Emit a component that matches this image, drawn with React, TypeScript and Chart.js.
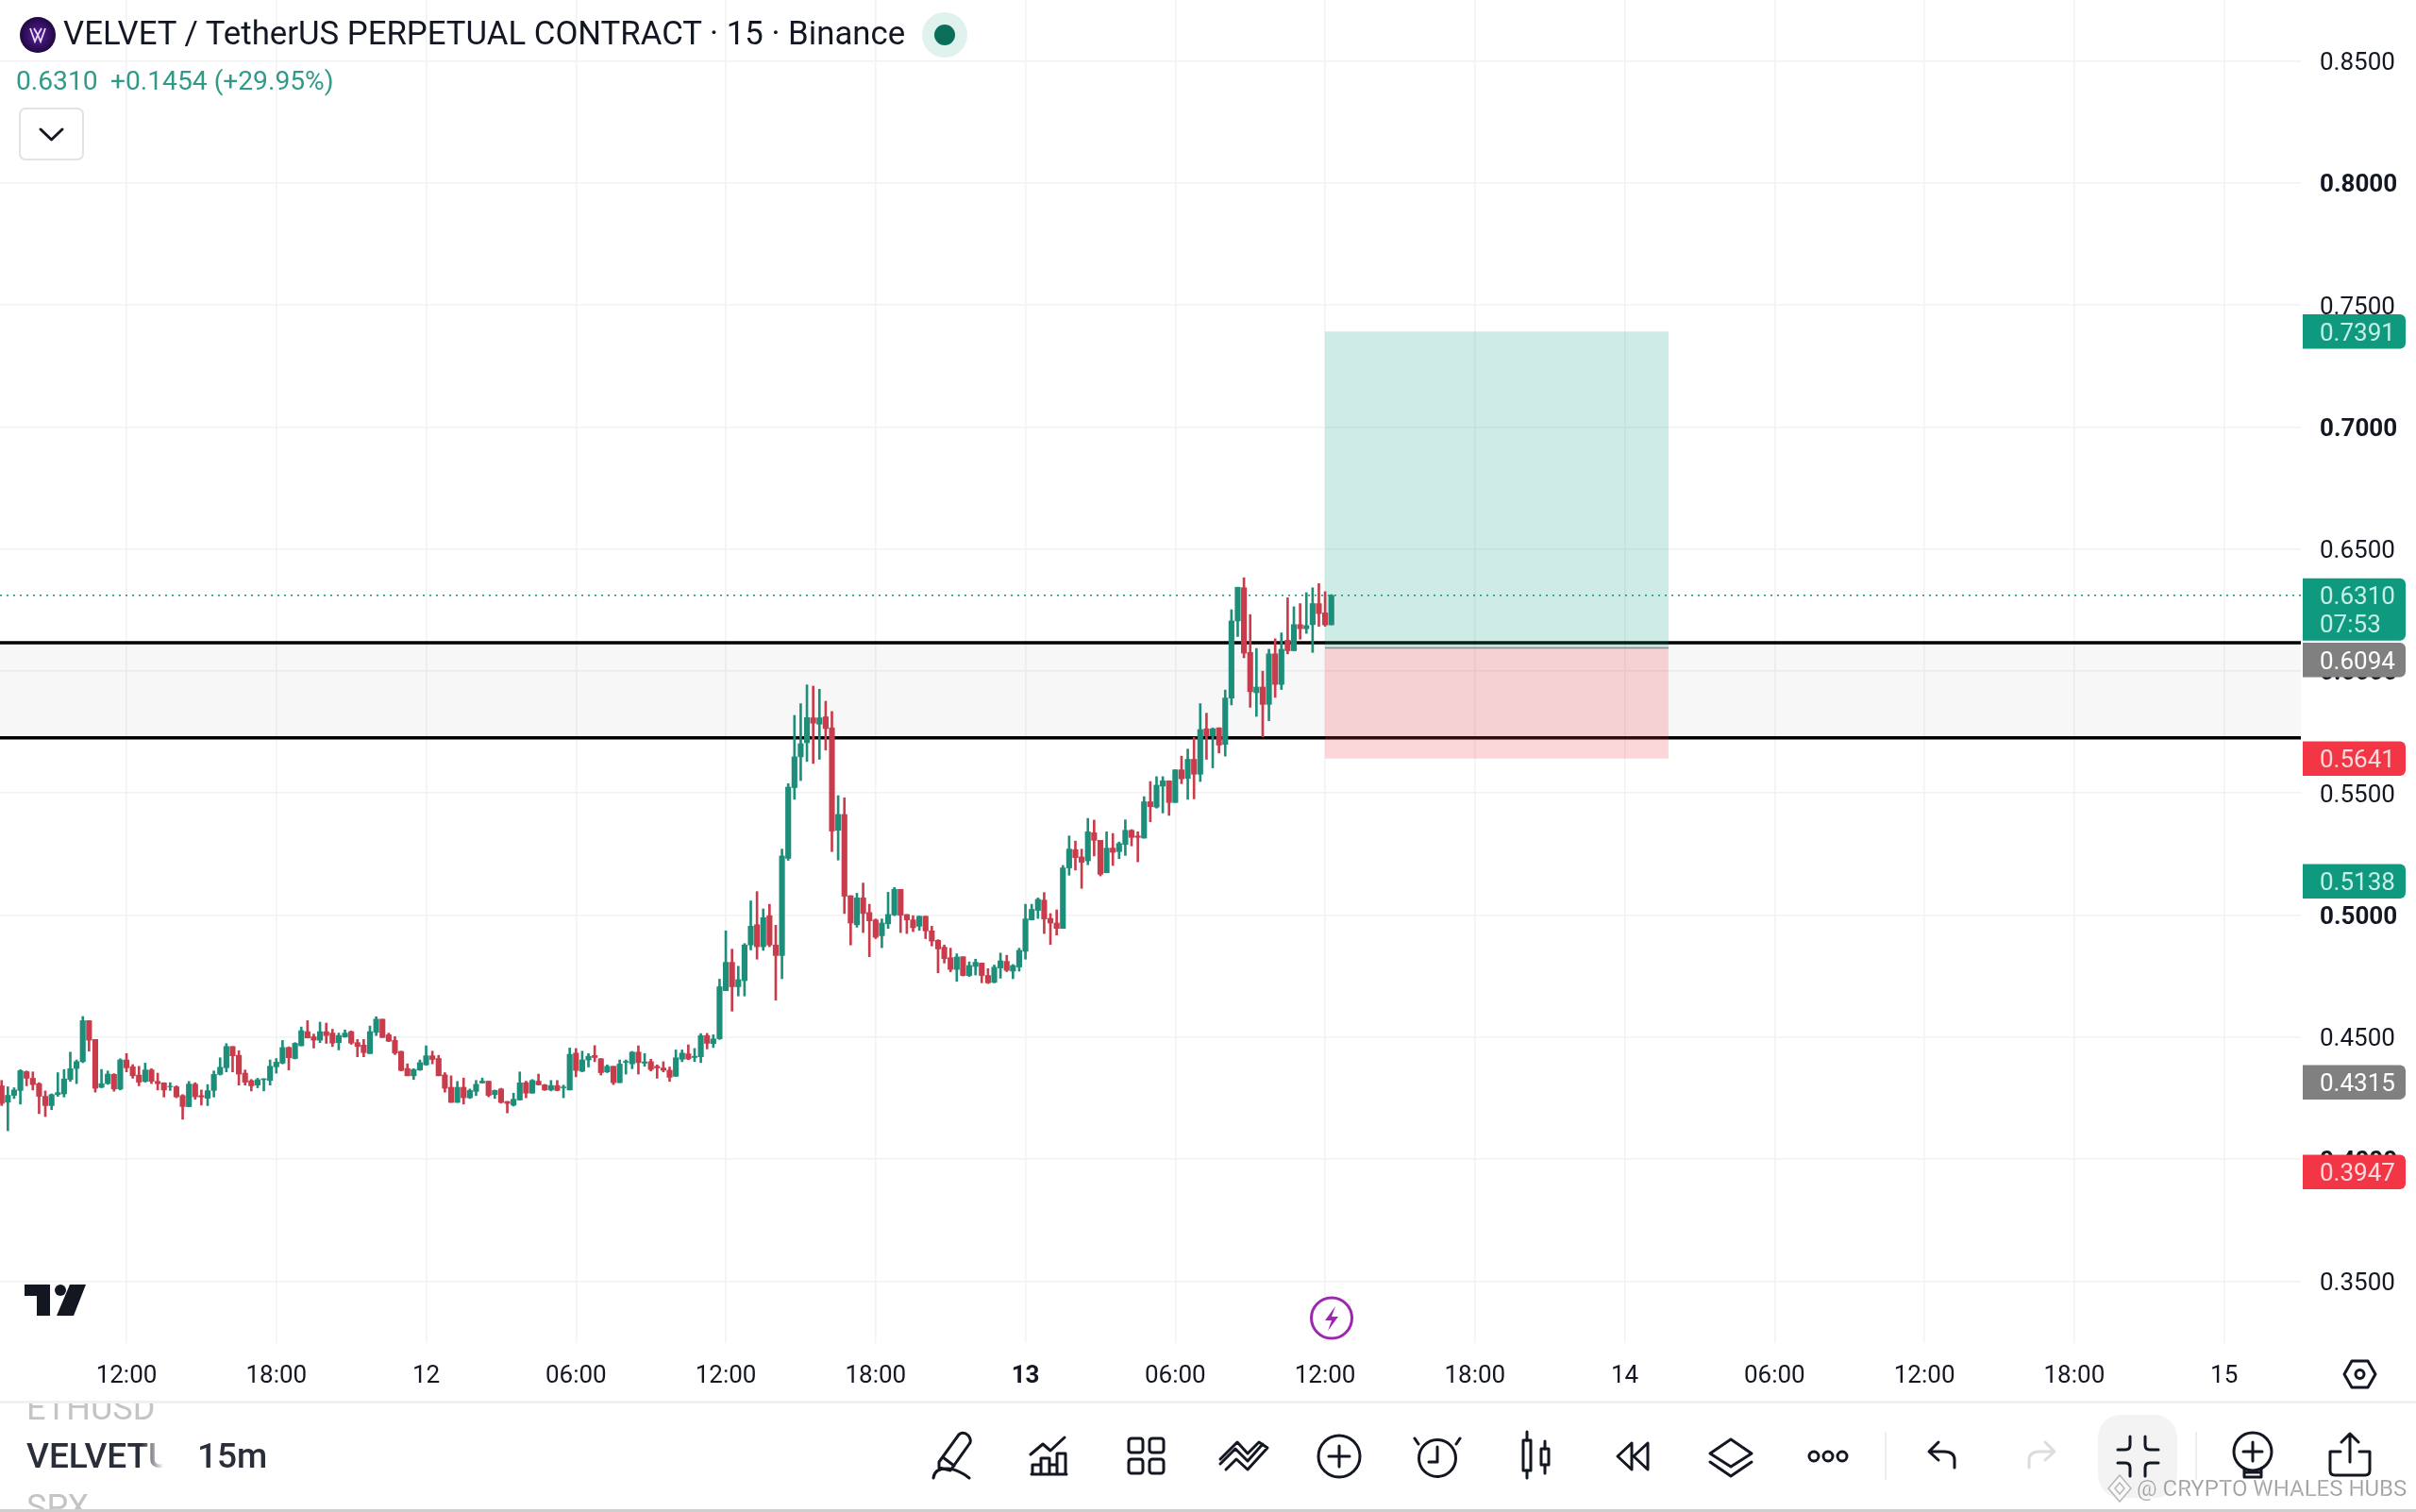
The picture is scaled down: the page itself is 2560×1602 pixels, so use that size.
import React, { useEffect, useRef } from "react";
import { Chart, registerables } from "chart.js";

Chart.register(...registerables);

const firstBar = 28;
const opens = [
  .4300,.4233,.4261,.4281,.4358,.4331,.4309,.4257,.4219,.4264,
  .4267,.4326,.4371,.4399,.4567,.4490,.4294,.4309,.4347,.4287,
  .4406,.4378,.4344,.4318,.4365,.4318,.4312,.4296,.4296,.4260,
  .4215,.4307,.4260,.4249,.4281,.4347,.4374,.4461,.4425,.4352,
  .4321,.4303,.4325,.4322,.4378,.4393,.4457,.4412,.4464,.4522,
  .4501,.4487,.4522,.4516,.4477,.4500,.4522,.4477,.4467,.4432,
  .4519,.4573,.4509,.4486,.4441,.4371,.4341,.4365,.4386,.4423,
  .4412,.4345,.4294,.4232,.4294,.4251,.4277,.4312,.4319,.4264,
  .4287,.4236,.4221,.4242,.4313,.4270,.4319,.4304,.4283,.4301,
  .4292,.4283,.4434,.4360,.4406,.4424,.4411,.4357,.4380,.4313,
  .4396,.4390,.4438,.4393,.4399,.4380,.4373,.4364,.4339,.4409,
  .4431,.4416,.4419,.4506,.4473,.4493,.4690,.4806,.4706,.4731,
  .4877,.4960,.4870,.4997,.4877,.4834,.5232,.5522,.5648,.5706,
  .5808,.5782,.5812,.5767,.5347,.5412,.5079,.4960,.5070,.5010,
  .4980,.4915,.4964,.5000,.5105,.5002,.4980,.4954,.4995,.4935,
  .4896,.4868,.4825,.4777,.4829,.4752,.4789,.4803,.4752,.4724,
  .4783,.4810,.4770,.4787,.4851,.4980,.5019,.5061,.4986,.4967,
  .4945,.5193,.5268,.5238,.5222,.5337,.5306,.5173,.5274,.5260,
  .5289,.5347,.5324,.5315,.5464,.5442,.5528,.5550,.5461,.5595,
  .5560,.5638,.5577,.5763,.5734,.5767,.5699,.5889,.6205,.6341,
  .6076,.5911,.5934,.5863,.6070,.5945,.6126,.6083,.6190,.6173,
  .6190,.6276,.6238,.6189,
];
const closes = [
  .4228,.4261,.4283,.4362,.4331,.4305,.4257,.4219,.4264,.4272,
  .4328,.4370,.4399,.4567,.4487,.4290,.4309,.4348,.4287,.4406,
  .4374,.4341,.4315,.4365,.4318,.4309,.4283,.4298,.4255,.4215,
  .4307,.4255,.4254,.4280,.4347,.4376,.4461,.4423,.4348,.4315,
  .4300,.4325,.4329,.4380,.4397,.4457,.4415,.4474,.4526,.4496,
  .4487,.4522,.4506,.4475,.4506,.4516,.4475,.4461,.4436,.4522,
  .4573,.4498,.4483,.4434,.4363,.4341,.4367,.4395,.4423,.4408,
  .4341,.4290,.4232,.4294,.4251,.4281,.4306,.4319,.4261,.4281,
  .4232,.4228,.4245,.4312,.4270,.4322,.4304,.4283,.4301,.4281,
  .4295,.4429,.4363,.4406,.4421,.4416,.4354,.4380,.4313,.4389,
  .4400,.4438,.4395,.4398,.4367,.4373,.4364,.4335,.4415,.4434,
  .4410,.4421,.4506,.4474,.4492,.4706,.4806,.4706,.4735,.4877,
  .4954,.4870,.4989,.4877,.4834,.5242,.5524,.5648,.5702,.5809,
  .5786,.5808,.5764,.5344,.5412,.5077,.4967,.5070,.5006,.4976,
  .4909,.4967,.5002,.5105,.4999,.4980,.4948,.4995,.4935,.4893,
  .4861,.4821,.4777,.4828,.4752,.4793,.4806,.4752,.4722,.4786,
  .4812,.4773,.4793,.4855,.4984,.5023,.5064,.4984,.4967,.4945,
  .5193,.5270,.5235,.5216,.5341,.5306,.5167,.5274,.5257,.5293,
  .5347,.5318,.5318,.5464,.5444,.5532,.5550,.5461,.5595,.5558,
  .5638,.5577,.5760,.5734,.5763,.5696,.5889,.6205,.6343,.6073,
  .5915,.5934,.5863,.6070,.5945,.6089,.6083,.6190,.6173,.6186,
  .6276,.6235,.6189,.6310,
];
const highs = [
  .4322,.4296,.4292,.4366,.4361,.4357,.4313,.4279,.4267,.4354,
  .4367,.4438,.4406,.4584,.4567,.4490,.4367,.4361,.4350,.4411,
  .4432,.4387,.4380,.4393,.4370,.4352,.4313,.4313,.4300,.4264,
  .4318,.4313,.4283,.4305,.4361,.4415,.4473,.4461,.4444,.4365,
  .4326,.4331,.4329,.4406,.4412,.4486,.4460,.4477,.4541,.4567,
  .4512,.4561,.4557,.4532,.4516,.4529,.4525,.4490,.4490,.4545,
  .4583,.4573,.4516,.4502,.4442,.4390,.4370,.4406,.4464,.4442,
  .4425,.4354,.4341,.4318,.4332,.4287,.4322,.4332,.4319,.4283,
  .4290,.4236,.4270,.4357,.4319,.4326,.4348,.4306,.4322,.4322,
  .4303,.4455,.4453,.4442,.4432,.4465,.4412,.4386,.4380,.4406,
  .4406,.4441,.4464,.4432,.4409,.4386,.4399,.4377,.4447,.4447,
  .4468,.4453,.4514,.4515,.4509,.4737,.4935,.4860,.4790,.4883,
  .5058,.5096,.5025,.5044,.4958,.5270,.5538,.5818,.5866,.5943,
  .5938,.5925,.5876,.5834,.5489,.5480,.5079,.5089,.5131,.5044,
  .4984,.4984,.5093,.5113,.5105,.5002,.4997,.4995,.4995,.4954,
  .4899,.4877,.4864,.4841,.4829,.4808,.4819,.4803,.4780,.4795,
  .4844,.4835,.4797,.4864,.5044,.5044,.5070,.5092,.5006,.5021,
  .5203,.5324,.5303,.5270,.5396,.5389,.5306,.5341,.5334,.5299,
  .5390,.5350,.5341,.5485,.5547,.5567,.5567,.5550,.5595,.5651,
  .5680,.5728,.5866,.5827,.5767,.5767,.5922,.6251,.6343,.6382,
  .6231,.6092,.5999,.6089,.6132,.6156,.6300,.6263,.6276,.6321,
  .6341,.6358,.6325,.6313,
];
const lows = [
  .4219,.4116,.4248,.4225,.4300,.4283,.4186,.4174,.4202,.4257,
  .4254,.4318,.4309,.4395,.4442,.4274,.4292,.4306,.4278,.4283,
  .4357,.4331,.4300,.4315,.4309,.4283,.4254,.4281,.4251,.4163,
  .4214,.4245,.4221,.4219,.4254,.4344,.4357,.4357,.4303,.4303,
  .4279,.4292,.4279,.4303,.4352,.4390,.4365,.4410,.4464,.4496,
  .4455,.4477,.4474,.4461,.4447,.4499,.4470,.4419,.4419,.4432,
  .4506,.4498,.4481,.4428,.4361,.4341,.4326,.4363,.4384,.4390,
  .4341,.4274,.4232,.4232,.4225,.4248,.4260,.4311,.4255,.4248,
  .4229,.4189,.4217,.4242,.4251,.4270,.4303,.4281,.4279,.4279,
  .4251,.4283,.4337,.4357,.4377,.4399,.4344,.4354,.4305,.4313,
  .4348,.4370,.4348,.4380,.4361,.4331,.4357,.4318,.4339,.4399,
  .4407,.4399,.4395,.4451,.4457,.4490,.4690,.4606,.4668,.4668,
  .4857,.4819,.4855,.4870,.4651,.4739,.5224,.5474,.5551,.5629,
  .5621,.5638,.5676,.5260,.5225,.5006,.4877,.4950,.4928,.4829,
  .4903,.4866,.4945,.4997,.4928,.4924,.4932,.4937,.4903,.4873,
  .4763,.4803,.4767,.4728,.4750,.4748,.4754,.4722,.4719,.4722,
  .4741,.4768,.4739,.4770,.4819,.4980,.4986,.4924,.4879,.4918,
  .4945,.5163,.5184,.5109,.5206,.5242,.5160,.5173,.5203,.5231,
  .5244,.5283,.5218,.5315,.5382,.5438,.5418,.5408,.5461,.5538,
  .5474,.5476,.5547,.5638,.5603,.5664,.5651,.5861,.6141,.6054,
  .5851,.5814,.5730,.5796,.5892,.5924,.6070,.6083,.6130,.6154,
  .6076,.6183,.6183,.6189,
];

const timeTickBars = [48, 72, 96, 120, 144, 168, 192, 216, 240, 264, 288, 312, 336, 360, 384];
const timeTickLabels = ["12:00", "18:00", "12", "06:00", "12:00", "18:00", "13", "06:00", "12:00", "18:00", "14", "06:00", "12:00", "18:00", "15"];
const priceTicks = [0.35, 0.4, 0.45, 0.5, 0.55, 0.6, 0.65, 0.7, 0.75, 0.8, 0.85];

const zoneTop = 0.6116;
const zoneBottom = 0.5726;
const lastPrice = 0.631;
const targetPrice = 0.7391;
const entryPrice = 0.6094;
const stopPrice = 0.5641;
const positionStartBar = 240;
const positionEndBar = 295;

const tagValues = [0.7391, 0.631, 0.6094, 0.5641, 0.5138, 0.4315, 0.3947];
const tagLabels = ["0.7391", "0.6310", "0.6094", "0.5641", "0.5138", "0.4315", "0.3947"];
const countdownLabel = "07:53";

const UP = "#1d8e7a";
const DOWN = "#c83c4c";
const FONT = "Roboto";
const TAG_COLORS = ["#0f9a80", "#0f9a80", "#808080", "#f23645", "#0f9a80", "#808080", "#f23645"];
const TAG_TEXT = ["#c6efe6", "#c6efe6", "#ffffff", "#ffd9dc", "#c6efe6", "#ffffff", "#ffd9dc"];
const TAG_NUDGE = [0, 0, 12.6, 0, 0, 0, 0];

const overlayPlugin = {
  id: "tvOverlay",
  beforeDatasetsDraw(chart: any) {
    const { ctx, chartArea, scales } = chart;
    const x = scales.x, y = scales.y;
    const L = chartArea.left, R = chartArea.right;
    ctx.save();
    // support/resistance zone fill
    ctx.fillStyle = "rgba(0,0,0,0.03)";
    ctx.fillRect(L, y.getPixelForValue(zoneTop), R - L, y.getPixelForValue(zoneBottom) - y.getPixelForValue(zoneTop));
    // last price dotted line
    ctx.strokeStyle = "#1d8e7a";
    ctx.lineWidth = 1.5;
    ctx.setLineDash([2, 5]);
    ctx.beginPath();
    ctx.moveTo(L, y.getPixelForValue(lastPrice));
    ctx.lineTo(R, y.getPixelForValue(lastPrice));
    ctx.stroke();
    ctx.setLineDash([]);
    // zone lines
    ctx.strokeStyle = "#000000";
    ctx.lineWidth = 3.5;
    for (const v of [zoneTop, zoneBottom]) {
      ctx.beginPath();
      ctx.moveTo(L, y.getPixelForValue(v));
      ctx.lineTo(R, y.getPixelForValue(v));
      ctx.stroke();
    }
    // position boxes sit over the zone lines
    const bx0 = x.getPixelForValue(positionStartBar), bx1 = x.getPixelForValue(positionEndBar);
    const yT = y.getPixelForValue(targetPrice), yE = y.getPixelForValue(entryPrice), yS = y.getPixelForValue(stopPrice);
    ctx.fillStyle = "rgba(8,153,129,0.2)";
    ctx.fillRect(bx0, yT, bx1 - bx0, yE - yT);
    ctx.fillStyle = "rgba(242,54,69,0.2)";
    ctx.fillRect(bx0, yE, bx1 - bx0, yS - yE);
    ctx.strokeStyle = "#8a8a8a";
    ctx.lineWidth = 1.5;
    ctx.beginPath();
    ctx.moveTo(bx0, yE);
    ctx.lineTo(bx1, yE);
    ctx.stroke();
    ctx.restore();
  },
  afterDraw(chart: any) {
    const { ctx, scales } = chart;
    const y = scales.y;
    ctx.save();
    ctx.font = `26px ${FONT}`;
    ctx.textBaseline = "middle";
    ctx.textAlign = "left";
    tagValues.forEach((v, i) => {
      const cy = y.getPixelForValue(v) + TAG_NUDGE[i];
      const isLast = v === lastPrice;
      const top = isLast ? cy - 18 : cy - 18.2;
      const h = isLast ? 66 : 36.5;
      ctx.fillStyle = TAG_COLORS[i];
      ctx.beginPath();
      ctx.roundRect(2440, top, 109, h, [0, 6, 6, 0]);
      ctx.fill();
      ctx.fillStyle = TAG_TEXT[i];
      ctx.fillText(tagLabels[i], 2458, cy + 3);
      if (isLast) ctx.fillText(countdownLabel, 2458, cy + 33);
    });
    ctx.restore();
  },
};

const ICON = { fill: "none", stroke: "#131722", strokeWidth: 3, strokeLinecap: "round" as const, strokeLinejoin: "round" as const };

function Overlay() {
  return (
    <svg width={2560} height={1602} style={{ position: "absolute", left: 0, top: 0, pointerEvents: "none" }} fontFamily={FONT}>
      <defs>
        <clipPath id="ethClip"><rect x={0} y={1487} width={400} height={40} /></clipPath>
        <clipPath id="spxClip"><rect x={0} y={1570} width={400} height={29} /></clipPath>
        <linearGradient id="fade" x1="0" x2="1" y1="0" y2="0">
          <stop offset="0" stopColor="#fff" stopOpacity={0} />
          <stop offset="1" stopColor="#fff" stopOpacity={1} />
        </linearGradient>
        <radialGradient id="logoG" cx="0.5" cy="0.5" r="0.55">
          <stop offset="0" stopColor="#5a1f9e" />
          <stop offset="1" stopColor="#1a0638" />
        </radialGradient>
      </defs>

      {/* header */}
      <circle cx={40} cy={37} r={19} fill="url(#logoG)" />
      <path d="M32 30 L37 44 L40 37 L43 44 L48 30 M36 30 L40 37 L44 30" fill="none" stroke="#e8dcf5" strokeWidth={1.8} />
      <text x={67} y={47} fontSize={34.75} fill="#131722">VELVET / TetherUS PERPETUAL CONTRACT · 15 · Binance</text>
      <circle cx={1001} cy={37} r={24} fill="#dff2ee" />
      <circle cx={1001} cy={37} r={11} fill="#0b6e5b" />
      <text x={17} y={95} fontSize={28.2} fill="#2f9a87">0.6310</text>
      <text x={117} y={95} fontSize={28.2} fill="#2f9a87">+0.1454 (+29.95%)</text>
      <rect x={21} y={115} width={67} height={54} rx={6} fill="#fff" stroke="#e3e3e3" strokeWidth={2} />
      <path d="M43 137 L54.5 148 L66 137" {...ICON} />

      {/* TradingView mark */}
      <path d="M26 1361 H53 V1394 H39 V1373 H26 Z" fill="#131722" />
      <circle cx={64} cy={1367} r={6} fill="#131722" />
      <path d="M74 1361 H91 L78 1394 H60 Z" fill="#131722" />

      {/* lightning marker */}
      <circle cx={1411} cy={1396.5} r={21.5} fill="#fff" stroke="#9c27b0" strokeWidth={3} />
      <path d="M1415 1384 L1404 1399 H1411 L1407 1410 L1418 1395 H1411 Z" fill="#9c27b0" />

      {/* settings hexagon */}
      <path d="M2484 1456 L2492 1442 H2509 L2517 1456 L2509 1470 H2492 Z" {...ICON} />
      <circle cx={2500.5} cy={1456} r={4.5} {...ICON} />

      {/* panel borders */}
      <rect x={0} y={1484} width={2560} height={3} fill="#f0f0f0" />
      <rect x={0} y={1599} width={2560} height={3} fill="#cfcfcf" />

      {/* symbol list */}
      <g clipPath="url(#ethClip)">
        <text x={28} y={1504} fontSize={36} fill="#c4c4c4">ETHUSD</text>
      </g>
      <text x={28} y={1555} fontSize={37} fontWeight={500} fill="#2a2e39">VELVETU</text>
      <rect x={150} y={1520} width={24} height={45} fill="url(#fade)" />
      <rect x={172} y={1520} width={20} height={45} fill="#fff" />
      <text x={209} y={1555} fontSize={37} fontWeight={500} fill="#2a2e39">15m</text>
      <g clipPath="url(#spxClip)">
        <text x={28} y={1609} fontSize={36} fill="#c4c4c4">SPX</text>
      </g>

      {/* toolbar */}
      <rect x={2223} y={1499} width={84} height={88} rx={24} fill="#f3f3f3" />
      <rect x={1997} y={1517} width={2} height={51} fill="#eeeeee" />
      <rect x={2326} y={1517} width={2} height={51} fill="#eeeeee" />

      {/* pencil */}
      <path d="M995 1549 L1016 1520 Q1021 1516 1026 1521 Q1030 1526 1027 1530 L1007 1558 L995 1555 Z M999 1544 L1011 1553" {...ICON} />
      <path d="M989 1566 Q990 1556 1003 1556 Q1014 1556 1027 1566" {...ICON} />
      {/* indicators */}
      <path d="M1092 1541 L1105 1530 L1113 1537 L1128 1523" {...ICON} />
      <path d="M1093 1562 H1130 M1094 1562 V1552 H1103 V1562 M1103 1562 V1545 H1112 V1562 M1112 1562 V1552 H1120 V1562 M1120 1562 V1540 H1129 V1562" {...ICON} />
      {/* layouts */}
      <rect x={1196} y={1524} width={15} height={15} rx={3} {...ICON} />
      <rect x={1218} y={1524} width={15} height={15} rx={3} {...ICON} />
      <rect x={1196} y={1546} width={15} height={15} rx={3} {...ICON} />
      <rect x={1218} y={1546} width={15} height={15} rx={3} {...ICON} />
      {/* templates */}
      <path d="M1293 1551 L1309 1535 L1322 1548 L1338 1530 M1299 1557 L1310 1546 L1322 1557 L1343 1534 L1334 1528 L1322 1540 L1311 1528 L1293 1546" {...ICON} />
      {/* plus */}
      <circle cx={1419} cy={1543} r={22} {...ICON} />
      <path d="M1419 1532 V1554 M1408 1543 H1430" {...ICON} />
      {/* alarm */}
      <circle cx={1523} cy={1545} r={19.5} {...ICON} />
      <path d="M1523 1533 V1549 H1514 M1503 1530 L1499 1524 M1543 1530 L1547 1524" {...ICON} />
      {/* candles */}
      <rect x={1614} y={1526} width={8} height={32} {...ICON} />
      <path d="M1618 1517 V1526 M1618 1558 V1566" {...ICON} />
      <rect x={1633} y={1535} width={8} height={17} {...ICON} />
      <path d="M1637 1527 V1535 M1637 1552 V1561" {...ICON} />
      {/* replay */}
      <path d="M1729 1529 L1714 1543 L1729 1557 V1529 M1746 1529 L1731 1543 L1746 1557 V1529" {...ICON} />
      {/* layers */}
      <path d="M1834 1525 L1856 1540 L1834 1554 L1812 1540 Z M1812 1549 L1834 1564 L1856 1549" {...ICON} />
      {/* more */}
      <circle cx={1922} cy={1543} r={5} {...ICON} />
      <circle cx={1937} cy={1543} r={5} {...ICON} />
      <circle cx={1952} cy={1543} r={5} {...ICON} />
      {/* undo / redo */}
      <path d="M2071 1555 V1547 Q2071 1538 2060 1538 H2045 M2054 1528 L2044 1538 L2054 1547" {...ICON} />
      <path d="M2150 1555 V1547 Q2150 1538 2161 1538 H2176 M2167 1528 L2177 1538 L2167 1547" {...ICON} stroke="#dcdcdc" />
      {/* collapse */}
      <path d="M2257 1522 V1531 Q2257 1536 2252 1536 H2244 M2273 1522 V1531 Q2273 1536 2278 1536 H2287 M2257 1564 V1555 Q2257 1550 2252 1550 H2244 M2273 1564 V1555 Q2273 1550 2278 1550 H2287" {...ICON} />
      {/* idea */}
      <circle cx={2387} cy={1538} r={20} {...ICON} />
      <path d="M2387 1528 V1548 M2377 1538 H2397" {...ICON} />
      <path d="M2378 1556 V1565 H2396 V1556 M2378 1560 H2396" {...ICON} />
      {/* share */}
      <path d="M2480 1538 H2469 V1558 Q2469 1563 2474 1563 H2506 Q2511 1563 2511 1558 V1538 H2500" {...ICON} />
      <path d="M2490 1549 V1519 M2481 1528 L2490 1519 L2499 1528" {...ICON} />

      {/* watermark */}
      <path d="M2246 1563 L2258 1577 L2246 1591 L2234 1577 Z M2246 1571 L2251 1577 L2246 1583 L2241 1577 Z" fill="#fff" fillOpacity={0.6} stroke="#b8b8b8" strokeWidth={1.5} />
      <text x={2264} y={1585} fontSize={24} fill="#9a9a9a" stroke="#ffffff" strokeOpacity={0.5} strokeWidth={0.6}>@ CRYPTO WHALES HUBS</text>
    </svg>
  );
}

export default function App() {
  const ref = useRef<HTMLCanvasElement>(null);
  useEffect(() => {
    if (!ref.current) return;
    const colors = opens.map((o, i) => (closes[i] >= o ? UP : DOWN));
    const chart = new Chart(ref.current, {
      type: "bar",
      data: {
        datasets: [
          {
            label: "Wick",
            data: lows.map((l, i) => ({ x: firstBar + i, y: [l, highs[i]] })) as any,
            backgroundColor: colors,
            barThickness: 2,
            grouped: false,
            order: 2,
          },
          {
            label: "Body",
            data: opens.map((o, i) => ({ x: firstBar + i, y: [o, closes[i]] })) as any,
            backgroundColor: colors,
            barThickness: 5.5,
            grouped: false,
            order: 1,
          },
        ],
      },
      options: {
        animation: false,
        responsive: false,
        devicePixelRatio: 1,
        parsing: { xAxisKey: "x", yAxisKey: "y" },
        layout: { padding: { left: 0, right: 0, top: 0, bottom: 117 } },
        plugins: { legend: { display: false }, tooltip: { enabled: false }, title: { display: false } },
        scales: {
          x: {
            type: "linear",
            min: 27.74,
            max: 396.3,
            offset: false,
            afterBuildTicks: (s: any) => { s.ticks = timeTickBars.map((value) => ({ value })); },
            afterFit: (s: any) => { s.height = 62; s.paddingLeft = 0; s.paddingRight = 0; },
            grid: { color: "#f2f2f2", lineWidth: 1.5, offset: false, drawTicks: false },
            border: { display: false },
            ticks: {
              autoSkip: false,
              maxRotation: 0,
              padding: 20,
              color: "#131722",
              font: (c: any) => ({ family: FONT, size: 26, weight: c.tick && timeTickLabels[c.index] === "13" ? "bold" : "normal" }),
              callback: (_v: any, i: number) => timeTickLabels[i],
            },
          },
          y: {
            type: "linear",
            position: "right",
            min: 0.32459,
            max: 0.87495,
            afterBuildTicks: (s: any) => { s.ticks = priceTicks.map((value) => ({ value })); },
            afterFit: (s: any) => { s.width = 122; s.paddingTop = 0; s.paddingBottom = 0; },
            grid: { color: "#f2f2f2", lineWidth: 1.5, drawTicks: false },
            border: { display: false },
            ticks: {
              padding: 20,
              labelOffset: 3,
              color: "#131722",
              font: (c: any) => {
                const v = c.tick ? Math.round(c.tick.value * 100) : 5;
                return { family: FONT, size: 26, weight: v % 10 === 0 ? "bold" : "normal" };
              },
              callback: (v: any) => Number(v).toFixed(4),
            },
          },
        },
      },
      plugins: [overlayPlugin],
    } as any);
    return () => chart.destroy();
  }, []);

  return (
    <div style={{ position: "fixed", left: 0, top: 0, width: 2560, height: 1602, background: "#ffffff", overflow: "hidden" }}>
      <canvas ref={ref} width={2560} height={1602} style={{ display: "block", width: 2560, height: 1602 }} />
      <Overlay />
    </div>
  );
}
